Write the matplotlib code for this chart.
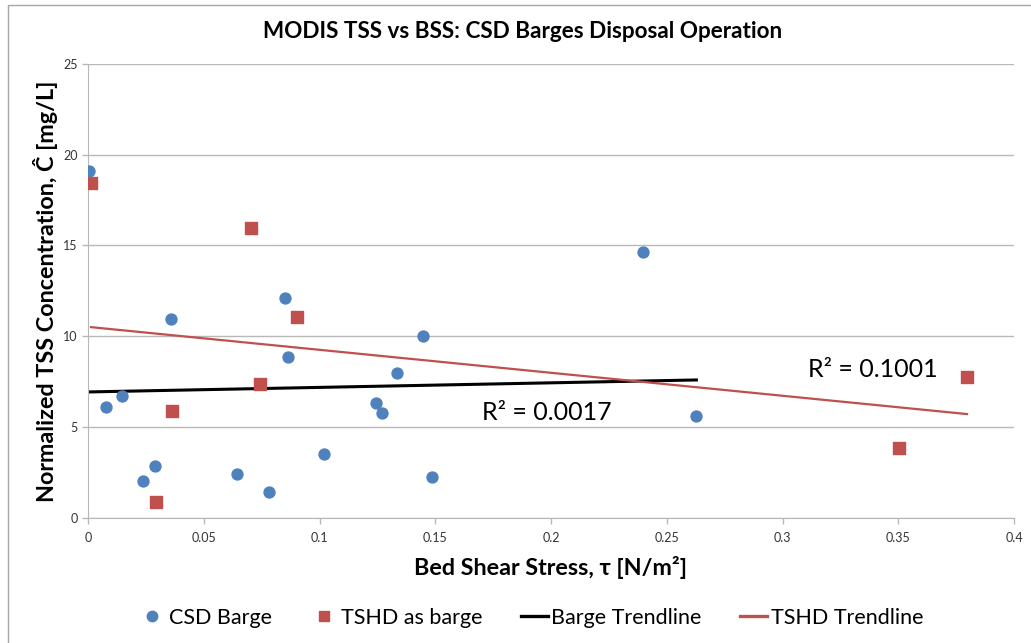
import numpy as np
import matplotlib
matplotlib.use('Agg')
import matplotlib.pyplot as plt
from matplotlib.patches import Rectangle
from matplotlib.lines import Line2D

plt.rcParams['font.family'] = ['Lato', 'DejaVu Sans']

# CSD barge points (bed shear stress, normalized TSS)
csd_x = [0.0004, 0.0078, 0.0148, 0.0236, 0.0290, 0.0358, 0.0645, 0.0784, 0.0851,
         0.0864, 0.1018, 0.1242, 0.1272, 0.1333, 0.1448, 0.1484, 0.2398, 0.2628]
csd_y = [19.10, 6.08, 6.72, 2.00, 2.85, 10.96, 2.42, 1.40, 12.09,
         8.87, 3.49, 6.30, 5.79, 7.99, 10.01, 2.26, 14.63, 5.62]

# TSHD treated as barge
tshd_x = [0.0013, 0.0295, 0.0361, 0.0704, 0.0744, 0.0902, 0.3502, 0.3797]
tshd_y = [18.46, 0.87, 5.86, 15.94, 7.35, 11.06, 3.86, 7.77]

# trendline end points as drawn
barge_trend_x = [0.0004, 0.2628]
barge_trend_y = [6.93, 7.59]
tshd_trend_x = [0.0013, 0.3797]
tshd_trend_y = [10.50, 5.71]

r2_barge = 'R\u00b2 = 0.0017'
r2_tshd = 'R\u00b2 = 0.1001'

xticks = [0, 0.05, 0.1, 0.15, 0.2, 0.25, 0.3, 0.35, 0.4]
xticklabels = ['0', '0.05', '0.1', '0.15', '0.2', '0.25', '0.3', '0.35', '0.4']
yticks = [0, 5, 10, 15, 20, 25]

blue = '#4F81BD'
red = '#C0504D'
grid = '#b8b8b8'

W, H = 1031, 643
fig = plt.figure(figsize=(W / 100, H / 100), dpi=100)

# chart area border (only left and top edges visible)
fig.add_artist(Rectangle((8 / W, -0.05), 1.1, 1 - 5 / H + 0.05, transform=fig.transFigure,
                         fill=False, edgecolor='#a6a6a6', lw=1))

ax = fig.add_axes([88 / W, 1 - 517.7 / H, (1014 - 88) / W, (517.7 - 64) / H])

ax.scatter(csd_x, csd_y, s=62, marker='o', color=blue, zorder=3, label='CSD Barge')
ax.scatter(tshd_x, tshd_y, s=66, marker='s', color=red, zorder=3, label='TSHD as barge')
ax.plot(barge_trend_x, barge_trend_y, color='black', lw=2.2, zorder=2, label='Barge Trendline')
ax.plot(tshd_trend_x, tshd_trend_y, color=red, lw=1.6, zorder=2, label='TSHD Trendline')

ax.text(0.1700, 5.82, r2_barge, fontsize=18, va='center', ha='left')
ax.text(0.3108, 8.19, r2_tshd, fontsize=18, va='center', ha='left')

ax.set_xlim(0, 0.4)
ax.set_ylim(0, 25)
ax.set_xticks(xticks)
ax.set_xticklabels(xticklabels)
ax.set_yticks(yticks)
ax.yaxis.grid(True, color=grid, lw=1)
ax.set_axisbelow(True)
for s in ['top', 'right']:
    ax.spines[s].set_visible(False)
for s in ['left', 'bottom']:
    ax.spines[s].set_color(grid)
ax.tick_params(axis='both', colors=grid, labelcolor='#333333', labelsize=9, length=4, width=1)
ax.tick_params(axis='x', pad=6)

ax.set_xlabel('Bed Shear Stress, \u03c4 [N/m\u00b2]', fontsize=16.8, fontweight='bold', labelpad=9)
ax.set_ylabel('Normalized TSS Concentration, \u0108 [mg/L]', fontsize=16.8, fontweight='bold', labelpad=4)
fig.text(523 / W, 1 - 32 / H, 'MODIS TSS vs BSS: CSD Barges Disposal Operation',
         fontsize=16.2, fontweight='bold', ha='center', va='center')

handles = [Line2D([], [], marker='o', ls='none', color=blue, markersize=7.5),
           Line2D([], [], marker='s', ls='none', color=red, markersize=7.5),
           Line2D([], [], color='black', lw=2.4),
           Line2D([], [], color=red, lw=2.4)]
labels = ['CSD Barge', 'TSHD as barge', 'Barge Trendline', 'TSHD Trendline']
fig.legend(handles, labels, loc='center', bbox_to_anchor=(531 / W, 1 - 618 / H), ncol=4,
           frameon=False, fontsize=15.5, handlelength=1.25, handletextpad=0.15,
           columnspacing=1.8)

fig.savefig('out.png', dpi=100)
